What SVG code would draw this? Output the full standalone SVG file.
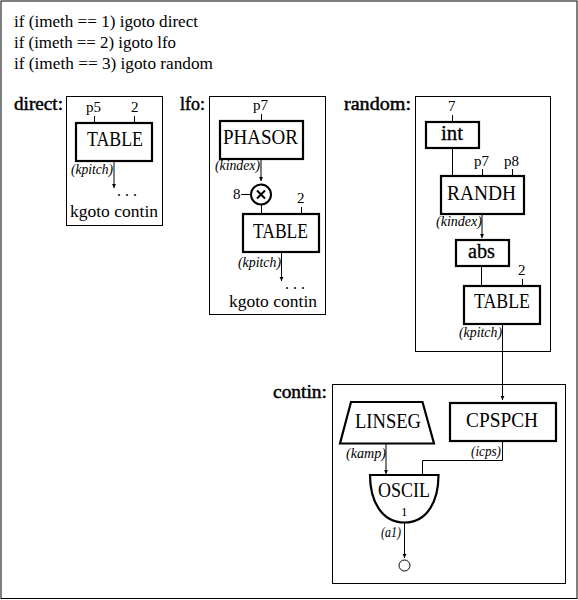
<svg xmlns="http://www.w3.org/2000/svg" width="578" height="600" viewBox="0 0 578 600">
<defs>
<marker id="arrow" markerUnits="userSpaceOnUse" markerWidth="5" markerHeight="6" refX="4.5" refY="2.5" orient="auto"><path d="M0,0.3 L4.5,2.5 L0,4.7 Z" fill="#000"/></marker>
</defs>
<style>
text{font-family:"Liberation Serif","DejaVu Serif",serif;fill:#000}
.frame{fill:#fff;stroke:#000;stroke-width:1}
.op{fill:#fff;stroke:#000;stroke-width:2.2}
.c{fill:none;stroke:#000;stroke-width:1}
.a{marker-end:url(#arrow)}
.t{font-size:16.5px}
.h{font-size:18px;stroke:#000;stroke-width:0.45}
.n{font-size:21px}
.b{font-size:20px;stroke:#000;stroke-width:0.3}
.s{font-size:15px}
.i{font-size:14px;font-style:italic}
.d{font-size:16px}
</style>
<rect x="0" y="0" width="578" height="600" fill="#fff"/>
<rect class="frame" x="1" y="1" width="576" height="597.5"/>
<g id="code">
<text class="t" x="14" y="27" textLength="184" lengthAdjust="spacingAndGlyphs">if (imeth == 1) igoto direct</text>
<text class="t" x="14" y="48" textLength="162" lengthAdjust="spacingAndGlyphs">if (imeth == 2) igoto lfo</text>
<text class="t" x="14" y="69" textLength="199" lengthAdjust="spacingAndGlyphs">if (imeth == 3) igoto random</text>
</g>
<g id="frames">
<rect class="frame" x="66.5" y="96.5" width="96" height="129"/>
<rect class="frame" x="209.5" y="96.5" width="116" height="218"/>
<rect class="frame" x="415.5" y="96.5" width="135" height="255"/>
<rect class="frame" x="332.5" y="384.5" width="233" height="199"/>
<text class="h" x="14" y="110" textLength="49" lengthAdjust="spacingAndGlyphs">direct:</text>
<text class="h" x="180" y="110" textLength="25" lengthAdjust="spacingAndGlyphs">lfo:</text>
<text class="h" x="344" y="110" textLength="67" lengthAdjust="spacingAndGlyphs">random:</text>
<text class="h" x="273" y="398" textLength="54" lengthAdjust="spacingAndGlyphs">contin:</text>
</g>
<g id="connectors">
<path class="c" d="M94.5 116V123M134.5 116V123"/>
<path class="c a" d="M114 161V188"/>
<path class="c" d="M261.5 114V121"/>
<path class="c a" d="M261 159V181"/>
<path class="c" d="M241 194.5H251M261.5 205V214M301.5 207V214"/>
<path class="c a" d="M281.5 252V281"/>
<path class="c" d="M452.5 115V122M452.5 148V176M482.5 169V176M512.5 169V176M481.5 266V286M522.5 279V286"/>
<path class="c a" d="M482 214V238"/>
<path class="c a" d="M502.5 324V400"/>
<path class="c a" d="M386 444V474"/>
<path class="c" d="M502.5 441V460.5H422.5V475"/>
<path class="c a" d="M404.5 523V558"/>
</g>
<g id="direct-table">
<rect class="op" x="76" y="123" width="76" height="38"/>
<text class="n" x="87" y="146" textLength="56" lengthAdjust="spacingAndGlyphs">TABLE</text>
<text class="s" x="86" y="112" textLength="15" lengthAdjust="spacingAndGlyphs">p5</text>
<text class="s" x="131" y="112">2</text>
<text class="i" x="71" y="174" textLength="42" lengthAdjust="spacingAndGlyphs">(kpitch)</text>
<text class="d" x="117" y="196" textLength="20" lengthAdjust="spacing">...</text>
<text class="t" x="70" y="217" textLength="88" lengthAdjust="spacingAndGlyphs">kgoto contin</text>
</g>
<g id="lfo-phasor">
<rect class="op" x="220" y="121" width="83" height="38"/>
<text class="n" x="223" y="144" textLength="75" lengthAdjust="spacingAndGlyphs">PHASOR</text>
<text class="s" x="253" y="110" textLength="15" lengthAdjust="spacingAndGlyphs">p7</text>
<text class="i" x="215" y="170" textLength="45" lengthAdjust="spacingAndGlyphs">(kindex)</text>
</g>
<g id="lfo-mult">
<circle cx="261" cy="194.5" r="10" fill="#fff" stroke="#000" stroke-width="2"/>
<path d="M257 190.5L265 198.5M265 190.5L257 198.5" stroke="#000" stroke-width="2" fill="none"/>
<text class="s" x="233" y="199">8</text>
</g>
<g id="lfo-table">
<rect class="op" x="243" y="214" width="76" height="38"/>
<text class="n" x="253" y="238" textLength="55" lengthAdjust="spacingAndGlyphs">TABLE</text>
<text class="s" x="297" y="203">2</text>
<text class="i" x="238" y="267" textLength="43" lengthAdjust="spacingAndGlyphs">(kpitch)</text>
<text class="d" x="285" y="289" textLength="20" lengthAdjust="spacing">...</text>
<text class="t" x="229" y="307" textLength="88" lengthAdjust="spacingAndGlyphs">kgoto contin</text>
</g>
<g id="random-int">
<rect class="op" x="426" y="122" width="53" height="26"/>
<text class="b" x="441" y="140" textLength="22" lengthAdjust="spacingAndGlyphs">int</text>
<text class="s" x="448" y="111">7</text>
</g>
<g id="random-randh">
<rect class="op" x="441" y="176" width="83" height="38"/>
<text class="n" x="447" y="200" textLength="69" lengthAdjust="spacingAndGlyphs">RANDH</text>
<text class="s" x="474" y="166" textLength="15" lengthAdjust="spacingAndGlyphs">p7</text>
<text class="s" x="504" y="166" textLength="15" lengthAdjust="spacingAndGlyphs">p8</text>
<text class="i" x="436" y="226" textLength="46" lengthAdjust="spacingAndGlyphs">(kindex)</text>
</g>
<g id="random-abs">
<rect class="op" x="456" y="240" width="53" height="26"/>
<text class="b" x="468" y="258" textLength="27" lengthAdjust="spacingAndGlyphs">abs</text>
</g>
<g id="random-table">
<rect class="op" x="464" y="286" width="76" height="38"/>
<text class="n" x="474" y="308" textLength="56" lengthAdjust="spacingAndGlyphs">TABLE</text>
<text class="s" x="518" y="275">2</text>
<text class="i" x="459" y="337" textLength="43" lengthAdjust="spacingAndGlyphs">(kpitch)</text>
</g>
<g id="linseg">
<path class="op" d="M351 402H422.5L434 443.5H340Z"/>
<text class="n" x="355" y="428" textLength="66" lengthAdjust="spacingAndGlyphs">LINSEG</text>
<text class="i" x="346" y="458" textLength="40" lengthAdjust="spacingAndGlyphs">(kamp)</text>
</g>
<g id="cpspch">
<rect class="op" x="450" y="403" width="106" height="38"/>
<text class="n" x="466" y="427" textLength="72" lengthAdjust="spacingAndGlyphs">CPSPCH</text>
<text class="i" x="471" y="456" textLength="30" lengthAdjust="spacingAndGlyphs">(icps)</text>
</g>
<g id="oscil">
<path class="op" d="M370 475H438.5C438.5 500 428 522.5 404.5 522.5C381 522.5 370 500 370 475Z"/>
<text x="378" y="497" font-size="20" textLength="52" lengthAdjust="spacingAndGlyphs">OSCIL</text>
<text x="401" y="516" font-size="13">1</text>
<text class="i" x="381" y="537" textLength="20" lengthAdjust="spacingAndGlyphs">(a1)</text>
</g>
<g id="output">
<circle cx="404.5" cy="565.5" r="5.5" fill="#fff" stroke="#000" stroke-width="1"/>
</g>
</svg>
